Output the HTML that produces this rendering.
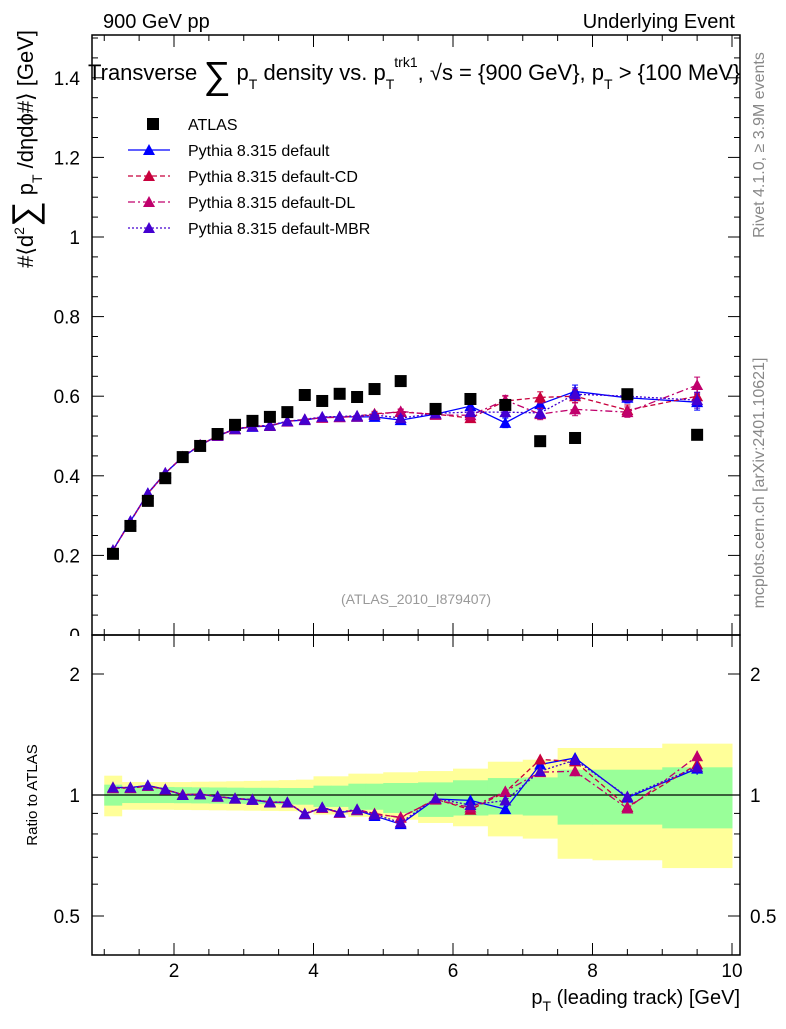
<!DOCTYPE html>
<html><head><meta charset="utf-8"><style>
body{margin:0;background:#fff;font-family:"Liberation Sans",sans-serif}
svg text{font-family:"Liberation Sans","DejaVu Sans",sans-serif}
</style></head><body>
<svg id="c" width="786" height="1024" xmlns="http://www.w3.org/2000/svg"></svg>
<script>
const xs=[1.125,1.375,1.625,1.875,2.125,2.375,2.625,2.875,3.125,3.375,3.625,3.875,4.125,4.375,4.625,4.875,5.25,5.75,6.25,6.75,7.25,7.75,8.5,9.5];
const xlo=[1,1.25,1.5,1.75,2,2.25,2.5,2.75,3,3.25,3.5,3.75,4,4.25,4.5,4.75,5,5.5,6,6.5,7,7.5,8,9];
const xhi=[1.25,1.5,1.75,2,2.25,2.5,2.75,3,3.25,3.5,3.75,4,4.25,4.5,4.75,5,5.5,6,6.5,7,7.5,8,9,10];
const atlas=[0.204,0.274,0.337,0.394,0.447,0.475,0.505,0.528,0.538,0.548,0.560,0.603,0.588,0.606,0.598,0.618,0.638,0.568,0.593,0.578,0.487,0.495,0.605,0.503];
const mcDefault=[0.213,0.286,0.356,0.407,0.447,0.477,0.500,0.517,0.523,0.525,0.537,0.540,0.547,0.548,0.548,0.548,0.540,0.555,0.575,0.533,0.580,0.612,0.596,0.585];
const mcCD=[0.213,0.285,0.355,0.406,0.448,0.477,0.501,0.517,0.524,0.526,0.537,0.541,0.546,0.548,0.550,0.556,0.560,0.555,0.545,0.588,0.597,0.600,0.565,0.600];
const mcDL=[0.212,0.285,0.355,0.407,0.448,0.478,0.500,0.518,0.524,0.527,0.536,0.542,0.546,0.547,0.549,0.553,0.562,0.553,0.552,0.590,0.555,0.567,0.560,0.628];
const mcMBR=[0.213,0.286,0.356,0.407,0.447,0.477,0.501,0.518,0.524,0.527,0.537,0.542,0.548,0.549,0.551,0.553,0.545,0.557,0.560,0.560,0.558,0.605,0.600,0.590];
const mcErr=[0.002,0.002,0.002,0.002,0.002,0.002,0.002,0.003,0.003,0.003,0.003,0.004,0.004,0.005,0.005,0.006,0.006,0.008,0.010,0.012,0.014,0.016,0.013,0.020];
const yellowUp=[1.117,1.077,1.077,1.077,1.077,1.079,1.080,1.082,1.084,1.086,1.089,1.092,1.113,1.113,1.130,1.130,1.139,1.147,1.163,1.210,1.224,1.309,1.309,1.342];
const yellowDn=[0.885,0.919,0.919,0.919,0.918,0.917,0.916,0.915,0.914,0.913,0.912,0.911,0.894,0.894,0.882,0.882,0.868,0.852,0.836,0.789,0.779,0.694,0.688,0.658];
const greenUp=[1.061,1.047,1.047,1.047,1.046,1.045,1.044,1.043,1.042,1.042,1.041,1.041,1.055,1.055,1.067,1.067,1.071,1.075,1.088,1.102,1.106,1.156,1.156,1.172];
const greenDn=[0.941,0.955,0.955,0.955,0.954,0.953,0.952,0.951,0.950,0.949,0.947,0.946,0.934,0.934,0.919,0.919,0.902,0.882,0.889,0.894,0.889,0.844,0.844,0.826];
const xTicks=[2,4,6,8,10];
const yTicks=[0,0.2,0.4,0.6,0.8,1,1.2,1.4];
const rTicks=[0.5,1,2];

const NS="http://www.w3.org/2000/svg",svg=document.getElementById('c');
function el(t,a,p){const e=document.createElementNS(NS,t);for(const k in a)e.setAttribute(k,a[k]);(p||svg).appendChild(e);return e;}
const L=92,R=740,T=35,MB=635,RB=955;
const X=v=>34.5+v*69.75;
const Y=v=>635-v*398;
const RY=v=>795-121*Math.log2(v);

const defs=el('defs',{});
const c1=el('clipPath',{id:'cm'},defs);el('rect',{x:L,y:T,width:R-L,height:MB-T},c1);
const c2=el('clipPath',{id:'cr'},defs);el('rect',{x:L,y:MB,width:R-L,height:RB-MB},c2);

const gr=el('g',{'clip-path':'url(#cr)'});

xs.forEach((v,i)=>{
  const y=el('rect',{x:X(xlo[i]),y:RY(yellowUp[i]),width:X(xhi[i])-X(xlo[i])+0.5,height:RY(yellowDn[i])-RY(yellowUp[i]),fill:'#ffff99'},gr);
  
});
xs.forEach((v,i)=>{
  const g=el('rect',{x:X(xlo[i]),y:RY(greenUp[i]),width:X(xhi[i])-X(xlo[i])+0.5,height:RY(greenDn[i])-RY(greenUp[i]),fill:'#99ff99'},gr);
  
});
el('line',{x1:L,x2:R,y1:RY(1),y2:RY(1),stroke:'#000','stroke-width':1.2},gr);

el('rect',{x:L,y:T,width:R-L,height:MB-T,fill:'none',stroke:'#000','stroke-width':1.5});
el('rect',{x:L,y:MB,width:R-L,height:RB-MB,fill:'none',stroke:'#000','stroke-width':1.5});

const tk=el('g',{stroke:'#000','stroke-width':1});
for(let v=1;v<=10;v+=0.5){const major=Math.abs(v-Math.round(v))<1e-6&&Math.round(v)%2==0;const l=major?12:6;
  [[MB,-1],[T,1],[RB,-1],[MB,1]].forEach(([y0,d])=>el('line',{x1:X(v),x2:X(v),y1:y0,y2:y0+d*l},tk));}
for(let v=0;v<=1.5001;v+=0.05){const major=Math.abs(v/0.2-Math.round(v/0.2))<1e-6;const l=major?12:6;
  el('line',{x1:L,x2:L+l,y1:Y(v),y2:Y(v)},tk);el('line',{x1:R,x2:R-l,y1:Y(v),y2:Y(v)},tk);}
[0.4,0.5,0.6,0.7,0.8,0.9,1,2].forEach(v=>{const major=rTicks.includes(v);const l=major?12:6;
  el('line',{x1:L,x2:L+l,y1:RY(v),y2:RY(v)},tk);el('line',{x1:R,x2:R-l,y1:RY(v),y2:RY(v)},tk);});

xTicks.forEach(v=>{const t=el('text',{x:X(v),y:977,'font-size':19,'text-anchor':'middle'});t.textContent=v;
  });
yTicks.forEach(v=>{const t=el('text',{x:80,y:Y(v)+7,'font-size':19,'text-anchor':'end'});t.textContent=v;
  });
el('rect',{x:60,y:636,width:25,height:12,fill:'#fff'});
rTicks.forEach(v=>{[[80,'end'],[750,'start']].forEach(([x,a])=>{const t=el('text',{x:x,y:RY(v)+7,'font-size':19,'text-anchor':a});t.textContent=v;
  });});

const series=[
 {name:'atlas',d:atlas},
 {name:'pythia-default',d:mcDefault,c:'#0000ff',dash:''},
 {name:'pythia-default-cd',d:mcCD,c:'#c8003c',dash:'5,3'},
 {name:'pythia-default-dl',d:mcDL,c:'#c0006c',dash:'7,3,2,3'},
 {name:'pythia-default-mbr',d:mcMBR,c:'#4400d0',dash:'2,2'}];
function tri(g,x,y,c,n){const p=el('polygon',{points:`${x-6},${y+5} ${x+6},${y+5} ${x},${y-6}`,fill:c},g);}
const gm=el('g',{'clip-path':'url(#cm)'});
const grr=el('g',{'clip-path':'url(#cr)'});
series.slice(1).forEach(s=>{
  const pm=xs.map((v,i)=>X(v)+','+Y(s.d[i])).join(' ');
  const l1=el('polyline',{points:pm,fill:'none',stroke:s.c,'stroke-width':1.3,'stroke-dasharray':s.dash},gm);
  
  const pr=xs.map((v,i)=>X(v)+','+RY(s.d[i]/atlas[i])).join(' ');
  const l2=el('polyline',{points:pr,fill:'none',stroke:s.c,'stroke-width':1.3,'stroke-dasharray':s.dash},grr);
  
  xs.forEach((v,i)=>{
    const e=mcErr[i];
    if(e>0.005){el('line',{x1:X(v),x2:X(v),y1:Y(s.d[i]+e),y2:Y(s.d[i]-e),stroke:s.c,'stroke-width':1.3},gm);
      el('line',{x1:X(v)-3,x2:X(v)+3,y1:Y(s.d[i]+e),y2:Y(s.d[i]+e),stroke:s.c},gm);
      el('line',{x1:X(v)-3,x2:X(v)+3,y1:Y(s.d[i]-e),y2:Y(s.d[i]-e),stroke:s.c},gm);
      el('line',{x1:X(v),x2:X(v),y1:RY((s.d[i]+e)/atlas[i]),y2:RY((s.d[i]-e)/atlas[i]),stroke:s.c,'stroke-width':1.3},grr);}
    tri(gm,X(v),Y(s.d[i]),s.c,s.name+'-point');
    tri(grr,X(v),RY(s.d[i]/atlas[i]),s.c,s.name+'-ratio-point');
  });
});
atlas.forEach((v,i)=>{const r=el('rect',{x:X(xs[i])-6,y:Y(v)-6,width:12,height:12,fill:'#000'},gm);
  });

const leg=[['ATLAS',null],['Pythia 8.315 default',series[1]],['Pythia 8.315 default-CD',series[2]],['Pythia 8.315 default-DL',series[3]],['Pythia 8.315 default-MBR',series[4]]];
leg.forEach((e,i)=>{const y=124+26*i;const g=el('g',{});
  if(!e[1]) el('rect',{x:147,y:y-6,width:12,height:12,fill:'#000'},g);
  else{el('line',{x1:128,x2:170,y1:y,y2:y,stroke:e[1].c,'stroke-width':1.3,'stroke-dasharray':e[1].dash},g);tri(g,149,y,e[1].c,'legend-marker');}
  const t=el('text',{x:188,y:y+6,'font-size':16},g);t.textContent=e[0];});

function txt(s,a,n){const t=el('text',a);t.innerHTML=s;return t;}
txt('900 GeV pp',{x:103,y:28,'font-size':20},'energy-label');
txt('Underlying Event',{x:735,y:28,'font-size':20,'text-anchor':'end'},'process-label');
txt('Transverse <tspan font-size="38" dy="8">∑</tspan><tspan dy="-8"> p</tspan><tspan font-size="14" dy="9">T</tspan><tspan dy="-9"> density vs. p</tspan><tspan font-size="14" dy="9">T</tspan><tspan font-size="14" dy="-22">trk1</tspan><tspan dy="13">, √s = {900 GeV}, p</tspan><tspan font-size="14" dy="9">T</tspan><tspan dy="-9"> &gt; {100 MeV}</tspan>',{x:88,y:80,'font-size':22},'plot-title');
txt('#⟨d<tspan font-size="14" dy="-9">2</tspan><tspan font-size="36" dy="13">∑</tspan><tspan dy="-4"> p</tspan><tspan font-size="14" dy="9">T</tspan><tspan dy="-9"> /dηdϕ#⟩ [GeV]</tspan>',{x:0,y:0,'font-size':22,transform:'translate(33,30) rotate(-90)','text-anchor':'end'},'y-axis-title');
txt('Ratio to ATLAS',{x:0,y:0,'font-size':15,transform:'translate(37,795) rotate(-90)','text-anchor':'middle'},'ratio-axis-title');
txt('p<tspan font-size="14" dy="7">T</tspan><tspan dy="-7"> (leading track) [GeV]</tspan>',{x:740,y:1004,'font-size':20,'text-anchor':'end'},'x-axis-title');
txt('(ATLAS_2010_I879407)',{x:416,y:604,'font-size':14,fill:'#999','text-anchor':'middle'},'analysis-id');
txt('Rivet 4.1.0, ≥ 3.9M events',{x:0,y:0,'font-size':16,fill:'#888',transform:'translate(764,145) rotate(-90)','text-anchor':'middle'},'rivet-label');
txt('mcplots.cern.ch [arXiv:2401.10621]',{x:0,y:0,'font-size':16,fill:'#888',transform:'translate(764,483) rotate(-90)','text-anchor':'middle'},'mcplots-label');
</script>
</body></html>
